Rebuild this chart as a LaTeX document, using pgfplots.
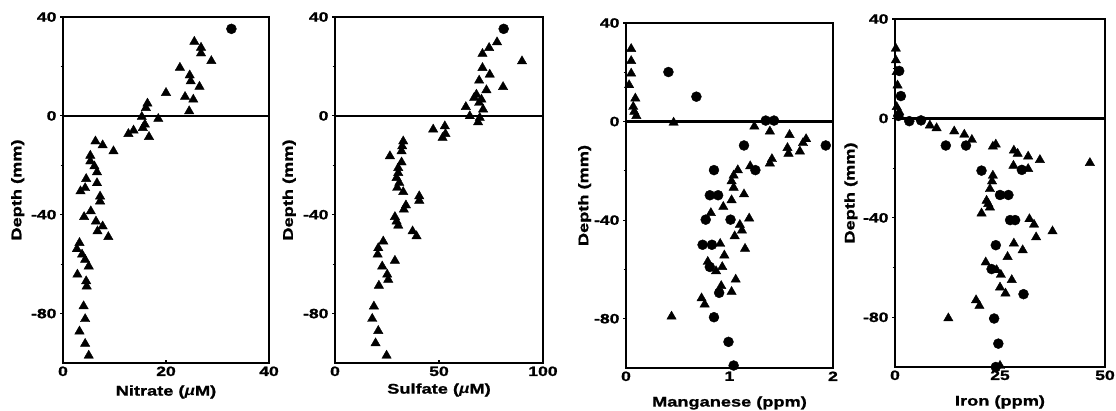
\documentclass[border=0pt]{standalone}
\usepackage{fontspec}
\setmainfont{Liberation Sans}[FakeStretch=1.3, BoldFeatures={FakeStretch=1.3, FakeBold=1.2}]
\usepackage{pgfplots}
\pgfplotsset{compat=1.18}
\pgfplotsset{
  myax/.style={
    scale only axis, height=346pt,
    ymin=-100, ymax=40,
    ytick={-80,-40,0,40}, minor ytick={-60,-20,20},
    ytick pos=left, xtick pos=bottom,
    xtick align=inside, ytick align=outside,
    major tick length=3pt, minor tick length=2.5pt,
    tick style={line width=1.2pt, black},
    axis line style={line width=2.5pt},
    clip=false,
    /pgf/number format/assume math mode=true,
    ticklabel style={font=\bfseries\fontsize{13.5}{13.5}\selectfont},
    xlabel style={font=\bfseries\fontsize{14}{14}\selectfont, anchor=center},
    ylabel style={font=\bfseries\fontsize{14}{14}\selectfont, anchor=center},
    ylabel={Depth (mm)},
  },
  tri/.style={only marks, mark=triangle*, mark size=5.4pt, black},
  cir/.style={only marks, mark=*, mark size=5pt, black},
  zl/.style={line width=2.2pt, black, no marks},
}
\begin{document}
\begin{tikzpicture}
\useasboundingbox (0,0) rectangle (1116pt,411pt);
% Nitrate
\begin{axis}[myax, at={(63pt,48pt)}, anchor=south west, width=206pt,
  xmin=0, xmax=40, xtick={0,20,40},
  xlabel={Nitrate (\textit{µ}M)},
  xlabel style={at={(axis description cs:0.5,0)}, yshift=-29pt},
  ylabel style={at={(axis description cs:-0.22,0.5)}}]
\addplot[zl] coordinates {(0,0) (40,0)};
\addplot[tri] coordinates {(25.5,30)(26.8,27.6)(26.8,25.3)(28.8,22.2)(22.7,19.5)(24.6,16.4)(24.8,14)(26.5,11.8)(20,9.3)(23.7,7.7)(25.3,6.6)(24.5,1.9)(16.4,5)(16.1,3.2)(15.3,-0.4)(18.5,-1.2)(15.9,-3.5)(15.5,-4.9)(13.7,-5.9)(12.7,-7.3)(16.7,-8.5)(6.3,-10.3)(7.7,-11.9)(9.8,-14.3)(5.3,-16.1)(5.3,-18.4)(6.1,-20.4)(6.6,-22.8)(4.5,-25.5)(6.6,-27.2)(4.3,-29.2)(3.4,-30.5)(7.2,-32.6)(7.2,-34.6)(5.4,-38.6)(4.1,-40.9)(6.4,-42.7)(7.7,-44.7)(6.7,-46.7)(8.8,-49)(3.2,-51.4)(2.7,-53.9)(3.7,-56.1)(4.3,-58.2)(5,-60.9)(2.8,-64.2)(4.5,-66.9)(4.6,-69)(4,-77)(4.3,-82.2)(3.2,-87.2)(4.3,-92.2)(5,-97)};
\addplot[cir] coordinates {(32.7,35.2)};
\end{axis}
% Sulfate
\begin{axis}[myax, at={(335pt,48pt)}, anchor=south west, width=208pt,
  xmin=0, xmax=100, xtick={0,50,100},
  xlabel={Sulfate (\textit{µ}M)},
  xlabel style={at={(axis description cs:0.5,0)}, yshift=-27pt},
  ylabel style={at={(axis description cs:-0.22,0.5)}}]
\addplot[zl] coordinates {(0,0) (100,0)};
\addplot[tri] coordinates {(77.9,29.8)(74.1,27.5)(70.9,25.1)(89.9,22.1)(70.9,19.4)(74.4,16.7)(69.3,14.3)(80.8,11.7)(72.8,10.4)(68,8.6)(66.9,7.3)(70.4,6.6)(69.3,5.3)(62.9,3.6)(71.2,2.6)(64.8,-0.1)(69.6,-0.8)(68.8,-2.6)(52.8,-4.2)(47.2,-5.5)(53.1,-7.3)(51.7,-8.9)(32.8,-10.3)(32.3,-12.3)(32,-14.3)(26.4,-16.3)(32,-18.8)(30.4,-21.1)(30.4,-23.1)(29.6,-25.1)(30.9,-27.1)(29.9,-29.1)(32.8,-30.8)(40.5,-32.5)(40.5,-34.3)(34.1,-36.2)(33.1,-37.9)(28.8,-40.9)(29.6,-42.7)(30.4,-44.4)(37.3,-46.7)(39.2,-48.7)(23.2,-50.8)(20.8,-53.5)(20.5,-56.1)(28.8,-58.6)(22.7,-60.9)(25.1,-64.2)(25.6,-66.3)(21.1,-68.7)(18.7,-77.1)(17.9,-82.1)(20.8,-87)(19.5,-92)(24.8,-97)};
\addplot[cir] coordinates {(81.1,35.2)};
\end{axis}
% Manganese
\begin{axis}[myax, at={(626pt,43pt)}, anchor=south west, width=207pt, height=345pt,
  xmin=0, xmax=2, xtick={0,1,2},
  xlabel={Manganese (ppm)},
  xlabel style={at={(axis description cs:0.5,0)}, yshift=-35pt},
  ylabel style={at={(axis description cs:-0.2,0.5)}}]
\addplot[zl] coordinates {(0,0) (2,0)};
\addplot[tri] coordinates {(0.05,29.5)(0.05,24.6)(0.05,19.5)(0.03,14.8)(0.09,9.4)(0.07,6)(0.08,4)(0.1,2.3)(0.46,-0.4)(1.24,-2)(1.39,-4)(1.58,-5.4)(1.74,-7.1)(1.71,-8.7)(1.56,-10.7)(1.68,-12.1)(1.57,-13)(1.41,-15.2)(1.39,-17)(1.2,-18.1)(1.08,-19.7)(1.04,-21.9)(1.02,-24.2)(1.04,-26.8)(1.14,-29.5)(1.02,-31.9)(0.94,-34.6)(0.82,-37.1)(1.19,-39.3)(1.10,-41.9)(1.12,-44.2)(1.05,-46.5)(0.91,-49.6)(1.15,-51.6)(0.95,-54.3)(0.79,-56.9)(0.87,-60.7)(0.93,-59)(1.06,-64.1)(0.92,-66.7)(1.02,-69.1)(0.73,-71.7)(0.76,-74.2)(0.44,-79.1)};
\addplot[cir] coordinates {(0.41,20.1)(0.68,10.1)(1.35,0.4)(1.43,0.4)(1.93,-9.7)(1.14,-9.7)(1.25,-19.7)(0.85,-19.7)(0.81,-29.9)(0.89,-29.9)(0.77,-39.8)(1.01,-39.8)(0.74,-50)(0.83,-50)(0.81,-59)(0.9,-69.5)(0.85,-79.4)(0.99,-89.4)(1.04,-99)};
\end{axis}
% Iron
\begin{axis}[myax, at={(895pt,44pt)}, anchor=south west, width=210pt, height=348pt,
  xmin=0, xmax=50, xtick={0,25,50},
  xlabel={Iron (ppm)},
  xlabel style={at={(axis description cs:0.5,0)}, yshift=-35pt},
  ylabel style={at={(axis description cs:-0.21,0.5)}}]
\addplot[zl] coordinates {(0,0) (50,0)};
\addplot[tri] coordinates {(0.2,28.1)(0.2,23.4)(0.4,18.7)(0.6,13.3)(0.4,4.6)(1,2.6)(8.3,-2.8)(9.9,-3.9)(14.1,-5.2)(16.5,-6.5)(18.3,-8.6)(23.3,-11.3)(24,-10.5)(28.3,-12.9)(29.2,-14.2)(31.7,-15.3)(34.5,-16.7)(46.4,-17.9)(28.2,-19)(31.7,-20.3)(23.3,-23)(23.1,-25.3)(22.6,-28.4)(21.8,-33.1)(22.6,-35.8)(22.2,-34.4)(20.6,-38.2)(32,-40.5)(33.1,-42.7)(37.5,-45.4)(33.6,-47.8)(28.3,-50.3)(30.4,-53)(26.8,-55.7)(21.6,-57.9)(24.2,-61)(25.2,-62.9)(27.8,-65)(25,-68)(26.3,-70.4)(19.3,-73.1)(20.1,-75.4)(12.7,-80.4)(25,-99.5)};
\addplot[cir] coordinates {(1,19.1)(1.4,9)(0.8,1)(3.4,-1.1)(6.2,-0.8)(12.1,-10.9)(16.9,-10.9)(30.2,-20.7)(20.6,-21)(25,-30.8)(27,-30.8)(27.4,-40.9)(28.6,-40.9)(24,-51)(23,-60.6)(30.6,-70.7)(23.6,-80.5)(24.6,-90.6)(24,-100)};
\end{axis}
\end{tikzpicture}
\end{document}
